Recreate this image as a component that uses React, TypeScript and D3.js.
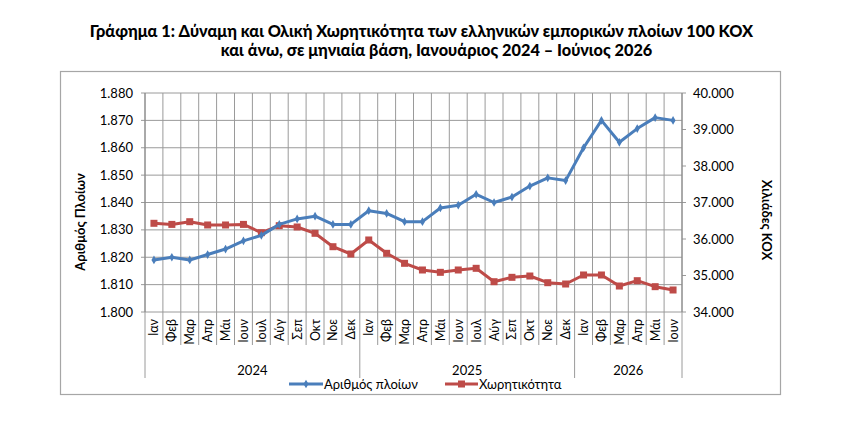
import React from "react";
import * as d3 from "d3";

const months = ["Ιαν","Φεβ","Μαρ","Απρ","Μάι","Ιουν","Ιουλ","Αύγ","Σεπ","Οκτ","Νοε","Δεκ","Ιαν","Φεβ","Μαρ","Απρ","Μάι","Ιουν","Ιουλ","Αύγ","Σεπ","Οκτ","Νοε","Δεκ","Ιαν","Φεβ","Μαρ","Απρ","Μάι","Ιουν"];
const years = ["2024", "2025", "2026"];
const yearStarts = [0, 12, 24, 30];
const ships = [1819,1820,1819,1821,1823,1826,1828,1832,1834,1835,1832,1832,1837,1836,1833,1833,1838,1839,1843,1840,1842,1846,1849,1848,1860,1870,1862,1867,1871,1870];
const tonnage = [36430,36400,36474,36384,36384,36400,36173,36364,36329,36156,35789,35589,35973,35608,35334,35151,35087,35151,35197,34830,34950,34986,34803,34767,35014,35014,34712,34858,34694,34603];
const leftTicks = [1800,1810,1820,1830,1840,1850,1860,1870,1880];
const rightTicks = [34000,35000,36000,37000,38000,39000,40000];
const seriesNames = ["Αριθμός πλοίων", "Χωρητικότητα"];
const titleLines = [
  "Γράφημα 1: Δύναμη και Ολική Χωρητικότητα των ελληνικών εμπορικών πλοίων 100 ΚΟΧ",
  "και άνω, σε μηνιαία βάση, Ιανουάριος 2024 – Ιούνιος 2026",
];
const leftTitle = "Αριθμός Πλοίων";
const rightTitle = "Χιλιάδες ΚΟΧ";

const BLUE = "#4a7ebb";
const RED = "#be4b48";
const GRID = "#9a9a9a";
const FONT = "Lato, 'Open Sans', sans-serif";

const locale = d3.formatLocale({ decimal: ",", thousands: ".", grouping: [3], currency: ["", "€"] });
const fmt = locale.format(",.0f");

export default function App() {
  const L = 145, R = 682, T = 93, B = 312;
  const x = d3.scaleBand<number>().domain(d3.range(months.length)).range([L, R]).paddingInner(0).paddingOuter(0);
  const bw = x.bandwidth();
  const cx = (i: number) => (x(i) as number) + bw / 2;
  const yL = d3.scaleLinear().domain([1800, 1880]).range([B, T]);
  const yR = d3.scaleLinear().domain([34000, 40000]).range([B, T]);
  const lineL = d3.line<number>().x((_, i) => cx(i)).y((d) => yL(d));
  const lineR = d3.line<number>().x((_, i) => cx(i)).y((d) => yR(d));
  const boundaries = d3.range(months.length + 1).map((i) => L + i * bw);
  const diamond = d3.symbol().type(d3.symbolDiamond).size(22)() as string;

  return (
    <svg width={855} height={428} style={{ position: "absolute", left: 0, top: 0, background: "#fff" }} fontFamily={FONT}>
      {/* title */}
      <text x={421.5} y={36.5} textAnchor="middle" fontWeight="900" fontSize={16.3} fill="#000">{titleLines[0]}</text>
      <text x={436.5} y={55.5} textAnchor="middle" fontWeight="900" fontSize={16.3} fill="#000">{titleLines[1]}</text>

      {/* frame */}
      <rect x={60.5} y={71.5} width={720} height={323} fill="none" stroke="#a6a6a6" strokeWidth={1.2} />

      {/* grid */}
      {leftTicks.map((t) => (
        <line key={"h" + t} x1={L - 4} x2={R} y1={yL(t)} y2={yL(t)} stroke={GRID} strokeWidth={1} />
      ))}
      {boundaries.map((bx, i) => (
        <line key={"v" + i} x1={bx} x2={bx} y1={T} y2={B} stroke={GRID} strokeWidth={1} />
      ))}
      {/* right axis ticks */}
      {rightTicks.map((t) => (
        <line key={"rt" + t} x1={R} x2={R + 4} y1={yR(t)} y2={yR(t)} stroke={GRID} strokeWidth={1} />
      ))}
      <line x1={L} x2={L} y1={T} y2={B} stroke="#868686" />
      <line x1={R} x2={R} y1={T} y2={B} stroke="#868686" />

      {/* category separators */}
      {boundaries.map((bx, i) => {
        const isYear = yearStarts.includes(i);
        return <line key={"c" + i} x1={bx} x2={bx} y1={B} y2={isYear ? 378 : 345} stroke={GRID} strokeWidth={1} />;
      })}

      {/* left tick labels */}
      {leftTicks.map((t) => (
        <text key={"lt" + t} x={133} y={yL(t)} dy="0.35em" textAnchor="end" fontSize={13} fill="#000">{fmt(t)}</text>
      ))}
      {rightTicks.map((t) => (
        <text key={"rl" + t} x={693} y={yR(t)} dy="0.35em" textAnchor="start" fontSize={13} fill="#000">{fmt(t)}</text>
      ))}

      {/* month labels */}
      {months.map((m, i) => (
        <text key={"m" + i} transform={`translate(${cx(i) + 4.5},319) rotate(-90)`} textAnchor="end" fontSize={12.5} fill="#000">{m}</text>
      ))}
      {years.map((yy, i) => (
        <text key={yy} x={(L + yearStarts[i] * bw + L + yearStarts[i + 1] * bw) / 2} y={375} textAnchor="middle" fontSize={13} fill="#000">{yy}</text>
      ))}

      {/* axis titles */}
      <text transform="translate(85,222) rotate(-90)" textAnchor="middle" fontWeight="bold" fontSize={13} fill="#000">{leftTitle}</text>
      <text transform="translate(762,220) rotate(90)" textAnchor="middle" fontWeight="bold" fontSize={13} fill="#000">{rightTitle}</text>

      {/* series */}
      <path d={lineR(tonnage) as string} fill="none" stroke={RED} strokeWidth={3} strokeLinejoin="round" />
      {tonnage.map((v, i) => (
        <rect key={"r" + i} x={cx(i) - 3.5} y={yR(v) - 3.5} width={7} height={7} fill={RED} />
      ))}
      <path d={lineL(ships) as string} fill="none" stroke={BLUE} strokeWidth={3} strokeLinejoin="round" />
      {ships.map((v, i) => (
        <path key={"b" + i} d={diamond} transform={`translate(${cx(i)},${yL(v)})`} fill={BLUE} />
      ))}

      {/* legend */}
      <line x1={289} x2={323} y1={384} y2={384} stroke={BLUE} strokeWidth={3} />
      <path d={diamond} transform="translate(306,384)" fill={BLUE} />
      <text x={324} y={384} dy="0.35em" fontSize={13} fill="#000">{seriesNames[0]}</text>
      <line x1={445} x2={478} y1={384} y2={384} stroke={RED} strokeWidth={3} />
      <rect x={458} y={380.5} width={7} height={7} fill={RED} />
      <text x={479} y={384} dy="0.35em" fontSize={13} fill="#000">{seriesNames[1]}</text>
    </svg>
  );
}
